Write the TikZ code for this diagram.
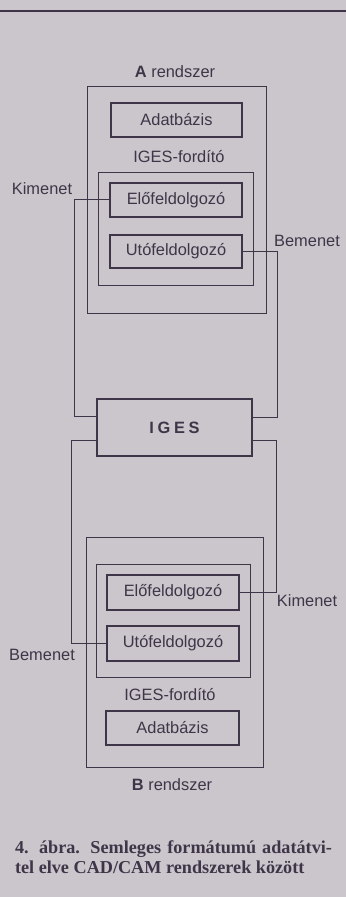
\documentclass[tikz,border=0pt]{standalone}
\usepackage{fontspec}
\setmainfont{Liberation Sans}
\newfontfamily\capfont{Liberation Serif}
\usetikzlibrary{positioning}
\definecolor{paper}{RGB}{202,198,204}
\definecolor{ink}{RGB}{62,54,72}

\begin{document}
\begin{tikzpicture}[x=0.5pt,y=-0.5pt,
  every node/.style={font=\fontsize{8.2}{9.5}\selectfont,text=ink},
  sysbox/.style={draw=ink,line width=0.5pt,inner sep=0pt},
  unitbox/.style={draw=ink,line width=1.2pt,minimum width=66pt,minimum height=17pt,inner sep=0pt},
  wire/.style={draw=ink,line width=0.5pt}]
  \fill[paper] (0,0) rectangle (346,897);
  \useasboundingbox (0,0) rectangle (346,897);
  \draw[ink,line width=1pt] (0,11) -- (346,11);
  % A system
  \node (titA) at (175,72) {{\bfseries A} rendszer};
  \node[sysbox,minimum width=89.5pt,minimum height=113.5pt] (sysA) at (176.5,200.5) {};
  \node[unitbox,minimum width=65.5pt] (adatA) at (176.5,120) {Adatbázis};
  \node (forA) at (179,157) {IGES-fordító};
  \node[sysbox,minimum width=77.5pt,minimum height=56.5pt] (trA) at (175.5,229.5) {};
  \node[unitbox] (eloA) at (176,200) {Előfeldolgozó};
  \node[unitbox,minimum height=16.5pt] (utoA) at (176,251.5) {Utófeldolgozó};
  % neutral file
  \node[unitbox,minimum width=77.5pt,minimum height=28.5pt] (iges) at (174.5,427.5)
    {\bfseries\addfontfeature{LetterSpace=22}IGES};
  \draw[wire] (eloA.west) -- ++(-34,0) |- ([yshift=5.5pt]iges.west);
  \node (kiA) at (42,189) {Kimenet};
  \draw[wire] (utoA.east) -- ++(34,0) |- ([yshift=5.25pt]iges.east);
  \node (beA) at (307,241) {Bemenet};
  % B system
  \node[sysbox,minimum width=88.5pt,minimum height=115pt] (sysB) at (174.5,652) {};
  \node[sysbox,minimum width=77pt,minimum height=56.5pt] (trB) at (173,620.5) {};
  \node[unitbox,minimum height=17.5pt] (eloB) at (173,592.5) {Előfeldolgozó};
  \node[unitbox,minimum height=17.5pt] (utoB) at (173,643.5) {Utófeldolgozó};
  \draw[wire] (eloB.east) -- ++(36,0) |- ([yshift=-6.25pt]iges.east);
  \node (kiB) at (307,601) {Kimenet};
  \draw[wire] (utoB.west) -- ++(-34,0) |- ([yshift=-6.25pt]iges.west);
  \node (beB) at (42,655) {Bemenet};
  \node (forB) at (170,695) {IGES-fordító};
  \node[unitbox,minimum width=66.5pt] (adatB) at (172.5,728) {Adatbázis};
  \node (titB) at (172,785) {{\bfseries B} rendszer};
  % caption
  \node[font=\capfont\bfseries\fontsize{9.1}{10}\selectfont,text width=158.5pt,
    align=justify,inner sep=0pt] (cap) at (173.5,857)
    {\parfillskip=0pt 4. ábra. Semleges formátumú adatátvi-\linebreak
     tel elve CAD/CAM rendszerek között};
\end{tikzpicture}
\end{document}
